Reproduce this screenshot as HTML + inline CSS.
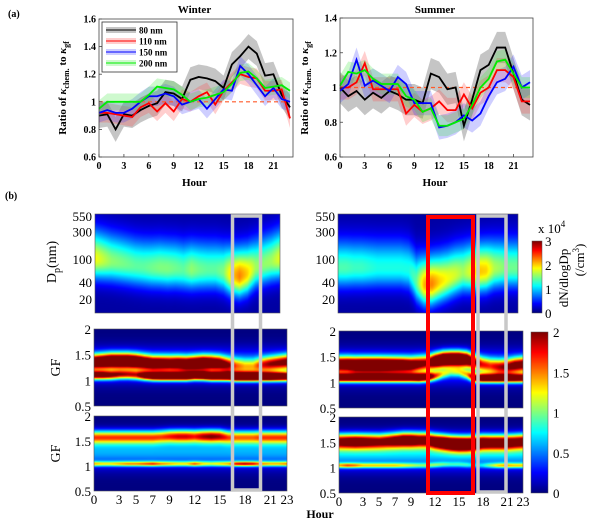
<!DOCTYPE html>
<html><head><meta charset="utf-8">
<style>
html,body{margin:0;padding:0;background:#fff;}
#root{position:relative;width:600px;height:522px;overflow:hidden;font-family:"Liberation Serif",serif;}
canvas{position:absolute;}
svg{position:absolute;left:0;top:0;}
</style></head><body>
<div id="root">
<canvas id="wTop" style="left:95px;top:214px" width="185" height="99"></canvas>
<canvas id="sTop" style="left:338px;top:214px" width="180" height="99"></canvas>
<canvas id="wG1" style="left:94px;top:329px" width="193" height="77"></canvas>
<canvas id="wG2" style="left:94px;top:416px" width="193" height="75"></canvas>
<canvas id="sG1" style="left:339px;top:331px" width="184" height="77"></canvas>
<canvas id="sG2" style="left:339px;top:417px" width="184" height="76"></canvas>
<canvas id="cb1" style="left:532px;top:241px" width="10" height="72"></canvas>
<canvas id="cb2" style="left:531px;top:332px" width="17" height="161"></canvas>
<svg id="svg" width="600" height="522" xmlns="http://www.w3.org/2000/svg" font-family="Liberation Serif, serif"></svg>
</div>
<script>
// ---------- line chart data ----------
const hours = [0,1,2,3,4,5,6,7,8,9,10,11,12,13,14,15,16,17,18,19,20,21,22,23];
const seriesNames = ["80 nm","110 nm","150 nm","200 nm"];
const winter80  = [0.90,0.91,0.80,0.91,0.90,0.94,0.97,0.99,1.07,1.06,1.02,1.16,1.18,1.17,1.15,1.10,1.27,1.33,1.40,1.35,1.19,1.20,1.05,0.96];
const winter110 = [0.92,0.92,0.91,0.90,0.89,0.96,0.99,0.93,0.99,0.93,1.02,1.00,1.04,1.07,0.98,1.08,1.14,1.20,1.18,1.17,1.08,1.08,1.09,0.88];
const winter150 = [0.92,0.94,0.92,0.92,0.95,1.00,1.04,1.04,1.06,1.04,0.98,1.00,1.02,0.95,1.02,1.09,1.08,1.26,1.20,1.12,1.04,1.10,1.02,1.00];
const winter200 = [0.95,1.00,1.00,1.00,1.00,1.00,1.05,1.11,1.10,1.09,1.05,1.00,1.02,1.03,1.05,1.07,1.13,1.21,1.22,1.17,1.10,1.11,1.12,1.08];
const summer80  = [1.00,0.95,0.98,0.93,0.97,0.94,0.98,0.96,0.93,0.93,0.91,1.08,1.06,0.99,1.00,0.78,0.93,1.10,1.13,1.23,1.23,1.08,0.93,0.90];
const summer110 = [1.00,1.00,1.03,1.14,0.99,0.99,0.99,0.99,0.85,0.90,0.86,0.88,0.92,0.87,0.87,0.96,0.88,0.97,1.00,1.10,1.10,1.06,0.92,0.92];
const summer150 = [0.98,1.02,1.16,1.01,1.04,1.01,0.98,1.06,1.02,0.91,0.91,0.91,0.77,0.78,0.80,0.84,0.81,0.85,0.95,1.03,1.05,1.12,1.00,1.03];
const summer200 = [1.01,1.09,1.08,1.10,1.05,1.02,1.02,1.02,0.95,0.93,0.86,0.88,0.78,0.78,0.80,0.82,0.90,1.00,1.05,1.15,1.16,1.08,1.00,1.00];
const bandHalf = [0.09,0.07,0.07,0.06];
const winterYTicks = [0.6,0.8,1,1.2,1.4,1.6];
const summerYTicks = [0.6,0.8,1,1.2,1.4];
const lineXTicks = [0,3,6,9,12,15,18,21];

// ---------- heatmap data ----------
const winterDpPeak = [100,95,90,85,80,75,72,70,70,68,68,65,65,65,65,65,60,52,50,55,70,80,90,100];
const winterDpAmp  = [1.75,1.6,1.45,1.4,1.35,1.3,1.3,1.35,1.4,1.4,1.35,1.3,1.45,1.35,1.3,1.3,1.4,1.9,2.15,1.9,1.5,1.45,1.5,1.7];
const summerDpPeak = [70,70,70,70,70,70,70,70,70,65,40,35,36,40,45,52,58,60,60,62,68,70,70,70];
const summerDpAmp  = [1.25,1.25,1.2,1.2,1.15,1.1,1.1,1.1,1.1,1.1,1.3,2.0,2.15,1.9,1.75,1.65,1.5,1.7,1.95,1.9,1.55,1.45,1.35,1.35];

const wG1HiC = [1.36,1.37,1.38,1.38,1.38,1.37,1.35,1.33,1.33,1.33,1.33,1.32,1.33,1.34,1.34,1.33,1.30,1.28,1.27,1.27,1.30,1.32,1.34,1.36];
const wG1HiA = [2.2,2.4,2.6,2.6,2.6,2.5,2.3,2.2,2.1,2.0,2.1,2.2,2.3,2.4,2.2,2.0,1.6,1.1,0.9,0.9,1.3,1.5,1.6,1.7];
const wG1LoC = [1.10,1.10,1.10,1.11,1.11,1.10,1.09,1.08,1.08,1.08,1.08,1.08,1.09,1.09,1.08,1.08,1.08,1.07,1.07,1.07,1.07,1.07,1.07,1.07];
const wG1LoA = [2.0,2.0,1.8,1.6,1.5,1.5,2.1,2.4,2.6,2.6,2.6,2.6,2.4,2.6,2.7,2.7,2.8,3.0,3.0,3.0,2.8,2.8,2.6,2.4];
const wG2HiC = [1.58,1.58,1.58,1.58,1.58,1.58,1.58,1.58,1.59,1.60,1.60,1.60,1.60,1.60,1.60,1.60,1.58,1.58,1.58,1.58,1.58,1.58,1.58,1.58];
const wG2HiA = [1.4,1.4,1.4,1.4,1.4,1.4,1.4,1.4,1.4,1.5,1.6,1.6,1.5,1.7,1.8,1.7,1.4,1.3,1.3,1.3,1.4,1.4,1.4,1.4];
const wG2LoC = [1.04,1.04,1.04,1.04,1.04,1.04,1.04,1.04,1.04,1.04,1.04,1.04,1.04,1.04,1.04,1.04,1.04,1.04,1.04,1.04,1.04,1.04,1.04,1.04];
const wG2LoA = [1.1,1.0,1.0,1.1,1.2,1.2,1.3,1.4,1.2,1.1,1.0,1.0,1.3,1.0,0.9,1.0,1.1,1.5,1.6,1.5,1.2,1.1,1.1,1.2];
const sG1HiC = [1.35,1.35,1.34,1.34,1.34,1.34,1.34,1.34,1.34,1.34,1.36,1.38,1.42,1.45,1.46,1.46,1.45,1.40,1.35,1.32,1.30,1.30,1.33,1.35];
const sG1HiA = [2.2,2.3,2.5,2.6,2.6,2.6,2.5,2.4,2.3,2.1,1.8,1.6,2.4,2.8,2.8,2.8,2.4,1.6,1.3,1.2,1.4,1.6,1.8,1.8];
const sG1LoC = [1.09,1.09,1.09,1.09,1.09,1.09,1.09,1.09,1.09,1.09,1.09,1.10,1.12,1.16,1.20,1.20,1.15,1.08,1.08,1.08,1.08,1.08,1.08,1.08];
const sG1LoA = [2.4,2.4,2.4,2.4,2.4,2.4,2.4,2.4,2.4,2.4,2.6,2.4,1.4,0.8,0.6,0.7,1.0,2.0,2.4,2.4,2.4,2.3,2.3,2.2];
const sG2HiC = [1.52,1.52,1.52,1.52,1.52,1.52,1.53,1.54,1.55,1.55,1.55,1.55,1.52,1.50,1.48,1.47,1.47,1.48,1.50,1.50,1.50,1.50,1.51,1.52];
const sG2HiA = [1.9,2.0,2.1,2.0,1.9,1.8,1.9,2.1,2.3,2.3,2.1,2.1,2.3,2.5,2.6,2.7,2.6,2.4,2.2,2.1,2.1,2.1,2.0,2.0];
const sG2LoC = [1.04,1.04,1.04,1.04,1.04,1.04,1.04,1.04,1.04,1.04,1.04,1.04,1.05,1.06,1.06,1.06,1.05,1.04,1.04,1.04,1.04,1.04,1.04,1.04];
const sG2LoA = [1.1,1.3,1.2,1.0,1.0,1.0,1.0,1.0,0.9,0.8,0.7,0.7,0.7,0.6,0.5,0.5,0.5,0.3,0.4,0.7,1.0,1.1,1.0,1.0];

const dpTicks = [20,40,100,300,550];
const gfTicks = [0.5,1,1.5,2];
const hourTicks = [0,3,5,7,9,12,15,18,21,23];
const cb1Ticks = [0,1,2,3];
const cb2Ticks = [0,0.5,1,1.5,2];

function jet(v){
  v=Math.max(0,Math.min(1,v));
  const r=Math.max(0,Math.min(1,1.5-Math.abs(4*v-3)));
  const g=Math.max(0,Math.min(1,1.5-Math.abs(4*v-2)));
  const b=Math.max(0,Math.min(1,1.5-Math.abs(4*v-1)));
  return [r*255,g*255,b*255];
}
function interp(arr,h){
  const i=Math.max(0,Math.min(arr.length-1,Math.floor(h)));
  const j=Math.min(arr.length-1,i+1), f=Math.max(0,Math.min(1,h-i));
  return arr[i]*(1-f)+arr[j]*f;
}
function drawMap(id,valueFn,vmax){
  const c=document.getElementById(id),ctx=c.getContext('2d');
  const W=c.width,H=c.height,img=ctx.createImageData(W,H);
  for(let x=0;x<W;x++){
    const h=x/(W-1)*23;
    for(let y=0;y<H;y++){
      const fy=1-y/(H-1);
      const col=jet(valueFn(h,fy)/vmax);
      const k=(y*W+x)*4;
      img.data[k]=col[0];img.data[k+1]=col[1];img.data[k+2]=col[2];img.data[k+3]=255;
    }
  }
  ctx.putImageData(img,0,0);
}
const dpLogMin=Math.log10(11.5), dpLogMax=Math.log10(600);
function dpFn(peak,amp){
  return (h,fy)=>{
    const ld=dpLogMin+fy*(dpLogMax-dpLogMin);
    const lp=Math.log10(interp(peak,h)), a=interp(amp,h);
    const s= ld<lp?0.24:0.34;
    const z=(ld-lp)/s;
    return a*Math.exp(-0.5*z*z)+0.1;
  };
}
function gfFn(hc,ha,lc,la,sh,sl,bg){
  return (h,fy)=>{
    const g=0.5+fy*1.5;
    const z1=(g-interp(hc,h))/sh, z2=(g-interp(lc,h))/sl, z3=(g-1.3)/0.22;
    return interp(ha,h)*Math.exp(-0.5*z1*z1)+interp(la,h)*Math.exp(-0.5*z2*z2)+bg*Math.exp(-0.5*z3*z3);
  };
}
drawMap('wTop',dpFn(winterDpPeak,winterDpAmp),3);
drawMap('sTop',dpFn(summerDpPeak,summerDpAmp),3);
drawMap('wG1',gfFn(wG1HiC,wG1HiA,wG1LoC,wG1LoA,0.1,0.06,0.5),2);
drawMap('wG2',gfFn(wG2HiC,wG2HiA,wG2LoC,wG2LoA,0.09,0.035,0.6),2);
drawMap('sG1',gfFn(sG1HiC,sG1HiA,sG1LoC,sG1LoA,0.1,0.06,0.5),2);
drawMap('sG2',gfFn(sG2HiC,sG2HiA,sG2LoC,sG2LoA,0.1,0.035,0.7),2);
(function(){
  ['cb1','cb2'].forEach(id=>{
    const c=document.getElementById(id),ctx=c.getContext('2d');
    for(let y=0;y<c.height;y++){const col=jet(1-y/(c.height-1));ctx.fillStyle=`rgb(${col[0]|0},${col[1]|0},${col[2]|0})`;ctx.fillRect(0,y,c.width,1);}
  });
})();

// ---------- SVG ----------
const svg=document.getElementById('svg'),NS='http://www.w3.org/2000/svg';
function el(tag,attrs,parent){const e=document.createElementNS(NS,tag);for(const k in attrs)e.setAttribute(k,attrs[k]);(parent||svg).appendChild(e);return e;}
function txt(s,x,y,attrs,parent){const t=el('text',Object.assign({x:x,y:y},attrs||{}),parent);t.textContent=s;return t;}

const lineColors=['#000000','#ff0000','#0000ff','#00ee00'];
const bandColors=['rgba(90,90,90,0.35)','rgba(255,60,60,0.25)','rgba(60,60,255,0.25)','rgba(60,230,60,0.25)'];
function lineChart(cfg){
  const g=el('g',{});
  
  
  const xS=h=>cfg.x0+(h/23)*(cfg.x1-cfg.x0);
  const yS=v=>cfg.yb-(v-cfg.vmin)/(cfg.vmax-cfg.vmin)*(cfg.yb-cfg.yt);
  cfg.series.forEach((s,i)=>{
    let up=hours.map((h,k)=>xS(h)+','+yS(s[k]+bandHalf[i])).join(' ');
    let dn=hours.slice().reverse().map(h=>xS(h)+','+yS(s[h]-bandHalf[i])).join(' ');
    const p=el('polygon',{points:up+' '+dn,fill:bandColors[i]},g);
    
    
  });
  const d=el('line',{x1:cfg.x0,x2:cfg.x1,y1:yS(1),y2:yS(1),stroke:'#ff5a2a','stroke-width':1.2,'stroke-dasharray':'4,3'},g);
  
  
  cfg.series.forEach((s,i)=>{
    const pl=el('polyline',{points:hours.map((h,k)=>xS(h)+','+yS(s[k])).join(' '),fill:'none',stroke:lineColors[i],'stroke-width':1.8},g);
    
    
  });
  const ax=el('rect',{x:cfg.x0,y:cfg.yt,width:cfg.x1+3-cfg.x0,height:cfg.yb-cfg.yt,fill:'none',stroke:'#444','stroke-width':0.8},g);
  
  
  cfg.yticks.forEach(v=>{
    el('line',{x1:cfg.x0,x2:cfg.x0+3,y1:yS(v),y2:yS(v),stroke:'#444','stroke-width':0.8},g);
    const t=txt(String(v),cfg.x0-3,yS(v)+3.5,{'font-size':10,'font-weight':'bold','text-anchor':'end'},g);
    
    
  });
  lineXTicks.forEach(h=>{
    el('line',{x1:xS(h),x2:xS(h),y1:cfg.yb,y2:cfg.yb-3,stroke:'#444','stroke-width':0.8},g);
    const t=txt(String(h),xS(h),cfg.yb+12,{'font-size':10,'font-weight':'bold','text-anchor':'middle'},g);
    
    
  });
  const ti=txt(cfg.title,(cfg.x0+cfg.x1)/2,13,{'font-size':11,'font-weight':'bold','text-anchor':'middle'},g);
  
  
  const xl=txt('Hour',(cfg.x0+cfg.x1)/2,186,{'font-size':11,'font-weight':'bold','text-anchor':'middle'},g);
  
  
  const yl=el('text',{transform:`translate(${cfg.ylx},88) rotate(-90)`,'font-size':11,'font-weight':'bold','text-anchor':'middle'},g);
  
  
  yl.innerHTML='Ratio of <tspan font-style="italic">κ</tspan><tspan font-size="8" dy="3">chem.</tspan><tspan dy="-3"> to </tspan><tspan font-style="italic">κ</tspan><tspan font-size="8" dy="3">gf</tspan>';
  return g;
}
lineChart({name:'winter-ratio-chart',title:'Winter',x0:99,x1:290,yt:19,yb:157,vmin:0.6,vmax:1.6,yticks:winterYTicks,ylx:66,series:[winter80,winter110,winter150,winter200]});
lineChart({name:'summer-ratio-chart',title:'Summer',x0:340,x1:530,yt:18,yb:157,vmin:0.6,vmax:1.4,yticks:summerYTicks,ylx:308,series:[summer80,summer110,summer150,summer200]});

const lg=el('g',{});


el('rect',{x:102,y:22,width:75,height:50,fill:'#fff',stroke:'#333','stroke-width':0.8},lg);
seriesNames.forEach((n,i)=>{
  const y=30+i*11;
  el('rect',{x:106,y:y-3,width:30,height:6,fill:bandColors[i]},lg);
  const l=el('line',{x1:106,x2:136,y1:y,y2:y,stroke:lineColors[i],'stroke-width':1},lg);
  
  
  const t=txt(n,139,y+3.5,{'font-size':9,'font-weight':'bold'},lg);
  
  
});

txt('(a)',8,17,{'font-size':10,'font-weight':'bold'});
txt('(b)',5,199,{'font-size':10,'font-weight':'bold'});

function dpY(top,h,d){return top+h-(Math.log10(d)-dpLogMin)/(dpLogMax-dpLogMin)*h;}
[[95,214,185,99],[338,214,180,99]].forEach(([x,y,w,h])=>{
  el('rect',{x:x,y:y,width:w,height:h,fill:'none',stroke:'#555','stroke-width':0.6});
  dpTicks.forEach(d=>{
    const t=txt(String(d),x-3,dpY(y,h,d)+5,{'font-size':13,'text-anchor':'end'});
    
    
  });
});
const dpl=el('text',{transform:'translate(56,262) rotate(-90)','font-size':14,'text-anchor':'middle'});


dpl.innerHTML='D<tspan font-size="10" dy="4">p</tspan><tspan dy="-4">(nm)</tspan>';

[[94,329,193,77,true,false],[94,416,193,75,true,true],[339,331,184,77,false,false],[339,417,184,76,false,true]].forEach(([x,y,w,h,left,bottom])=>{
  el('rect',{x:x,y:y,width:w,height:h,fill:'none',stroke:'#555','stroke-width':0.6});
  gfTicks.forEach(v=>{
    const t=txt(String(v),x-3,y+h-(v-0.5)/1.5*h+5,{'font-size':13,'text-anchor':'end'});
    
    
  });
  if(left){
    const gl=txt('GF',0,0,{'font-size':14,'text-anchor':'middle',transform:`translate(60,${y+h/2}) rotate(-90)`});
    
    
  }
  if(bottom){
    hourTicks.forEach(hh=>{
      const t=txt(String(hh),x+hh/23*w,y+h+13,{'font-size':13,'text-anchor':'middle'});
      
      
    });
  }
});
const hl=txt('Hour',320,518,{'font-size':12,'font-weight':'bold','text-anchor':'middle'});



const b1=el('rect',{x:232.5,y:216,width:28,height:274,fill:'none',stroke:'#c8c8c8','stroke-width':3.5});


const b2=el('rect',{x:478,y:216,width:28,height:276,fill:'none',stroke:'#c8c8c8','stroke-width':3.5});


const b3=el('rect',{x:428,y:217,width:45,height:276,fill:'none',stroke:'#ff0000','stroke-width':4});



el('rect',{x:532,y:241,width:10,height:72,fill:'none',stroke:'#555','stroke-width':0.5});
cb1Ticks.forEach(v=>{
  const t=txt(String(v),545,313-v/3*72+5,{'font-size':13});
  
  
});
const xp=el('text',{x:538,y:233,'font-size':13});
xp.innerHTML='x 10<tspan font-size="9" dy="-6">4</tspan>';


const cbl=el('text',{transform:'translate(568,278) rotate(-90)','font-size':13,'text-anchor':'middle'});


cbl.textContent='dN/dlogDp';
const cbl2=el('text',{transform:'translate(584,260) rotate(-90)','font-size':13,'text-anchor':'middle'});


cbl2.innerHTML='(/cm<tspan font-size="9" dy="-5">3</tspan><tspan dy="5">)</tspan>';
el('rect',{x:531,y:332,width:17,height:161,fill:'none',stroke:'#555','stroke-width':0.5});
cb2Ticks.forEach(v=>{
  const t=txt(String(v),553,493-v/2*161+5,{'font-size':13});
  
  
});
</script>
</body></html>
